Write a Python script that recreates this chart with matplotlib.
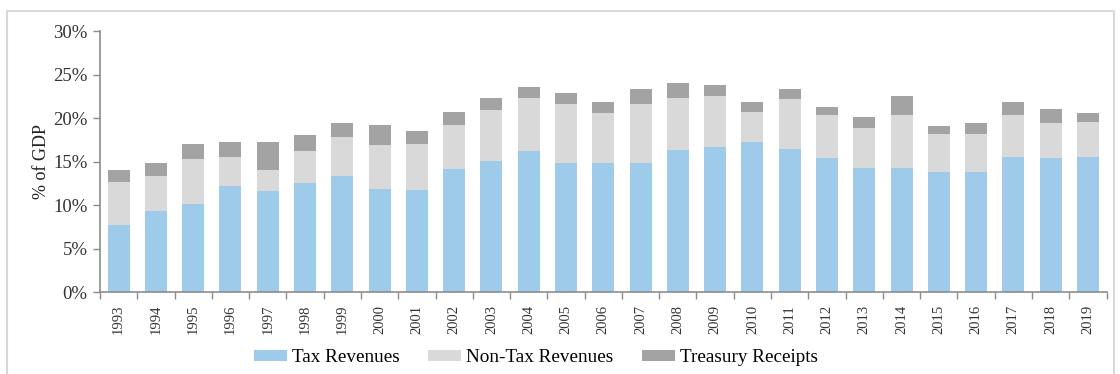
import matplotlib
matplotlib.use("Agg")
import matplotlib.pyplot as plt
from matplotlib.patches import Rectangle
import numpy as np

plt.rcParams['font.family'] = ['Liberation Serif', 'DejaVu Serif']

years = ['1993', '1994', '1995', '1996', '1997', '1998', '1999', '2000', '2001',
         '2002', '2003', '2004', '2005', '2006', '2007', '2008', '2009', '2010',
         '2011', '2012', '2013', '2014', '2015', '2016', '2017', '2018', '2019']

# % of GDP
tax = [7.7, 9.4, 10.1, 12.2, 11.6, 12.6, 13.4, 11.9, 11.8,
       14.2, 15.1, 16.2, 14.9, 14.8, 14.9, 16.3, 16.7, 17.3,
       16.5, 15.4, 14.3, 14.3, 13.8, 13.8, 15.5, 15.4, 15.5]
non_tax = [5.0, 4.0, 5.2, 3.3, 2.5, 3.6, 4.4, 5.0, 5.2,
           5.0, 5.8, 6.1, 6.7, 5.8, 6.7, 6.0, 5.8, 3.4,
           5.7, 5.0, 4.6, 6.1, 4.4, 4.4, 4.9, 4.1, 4.1]
treasury = [1.4, 1.5, 1.7, 1.8, 3.2, 1.9, 1.6, 2.3, 1.5,
            1.5, 1.4, 1.3, 1.3, 1.3, 1.7, 1.7, 1.3, 1.2,
            1.1, 0.9, 1.2, 2.2, 0.9, 1.2, 1.5, 1.6, 1.0]
yticks = [0, 5, 10, 15, 20, 25, 30]

c_tax = '#9ecbea'
c_non = '#d9d9d9'
c_tre = '#a3a3a3'
c_axis = '#8c8c8c'

fig = plt.figure(figsize=(11.2, 3.74), dpi=100)
ax = fig.add_axes([0.0893, 0.218, 0.8987, 0.699])

x = np.arange(len(years))
tax = np.array(tax)
non_tax = np.array(non_tax)
treasury = np.array(treasury)
w = 0.59
ax.bar(x, tax, w, color=c_tax, label='Tax Revenues')
ax.bar(x, non_tax, w, bottom=tax, color=c_non, label='Non-Tax Revenues')
ax.bar(x, treasury, w, bottom=tax + non_tax, color=c_tre, label='Treasury Receipts')

ax.set_xlim(-0.5, len(years) - 0.5)
ax.set_ylim(0, 30)
ax.set_yticks(yticks)
ax.set_yticklabels([f'{v}%' for v in yticks], fontsize=13.5, color='#333333')
ax.set_xticks(x)
ax.set_xticklabels(years, rotation=90, fontsize=10.5, color='#333333')
ax.set_xticks(np.arange(len(years) + 1) - 0.5, minor=True)
ax.tick_params(axis='x', which='major', length=0, pad=9)
ax.tick_params(axis='x', which='minor', length=5, color=c_axis, width=1)
ax.tick_params(axis='y', length=5, color=c_axis, width=1, pad=4)

for s in ['top', 'right']:
    ax.spines[s].set_visible(False)
for s in ['left', 'bottom']:
    ax.spines[s].set_color(c_axis)
    ax.spines[s].set_linewidth(1.2)

ax.set_ylabel('% of GDP', fontsize=13, color='#222222', labelpad=2)

fig.legend(loc='center', bbox_to_anchor=(0.4786, 0.043), ncol=3, frameon=False,
           fontsize=13.8, handlelength=1.72, handleheight=0.52, columnspacing=1.5,
           handletextpad=0.26, borderpad=0.1)

fig.patches.append(Rectangle((7 / 1120, -0.05), 1107 / 1120, 1.05 - 11 / 374,
                             transform=fig.transFigure, fill=False,
                             edgecolor='#d9d9d9', linewidth=1.5))

fig.savefig('out.png', dpi=100)
